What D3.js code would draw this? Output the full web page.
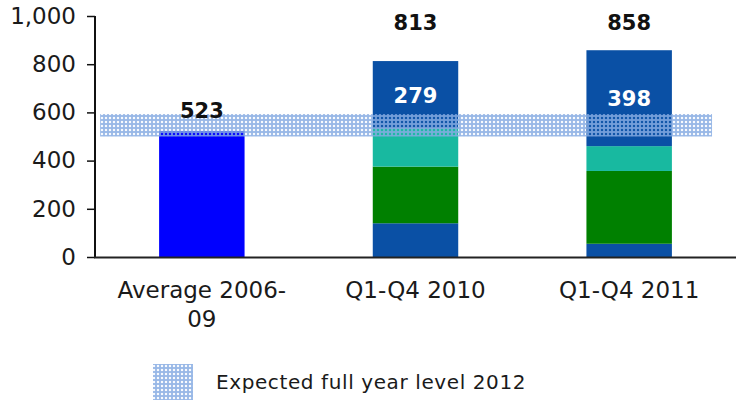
<!DOCTYPE html>
<html><head><meta charset="utf-8">
<script src="https://cdn.jsdelivr.net/npm/d3@7/dist/d3.min.js"></script>
<style>body{margin:0;background:#fff}svg{display:block}</style>
</head><body><svg id="c" width="736" height="403"></svg>
<script>
// ---- data ----
const categories = ["Average 2006-09", "Q1-Q4 2010", "Q1-Q4 2011"];
const categoryLines = [["Average 2006-", "09"], ["Q1-Q4 2010"], ["Q1-Q4 2011"]];
const averageValues = [523, 0, 0];
const baseValues = [0, 140, 55];
const greenValues = [0, 235, 302];
const tealValues = [0, 159, 103];
const topValues = [0, 279, 398];
const totals = [523, 813, 858];
const insideLabels = [null, 279, 398];
const yTicks = [0, 200, 400, 600, 800, 1000];
const expectedRange = [500, 593];
const legendLabel = "Expected full year level 2012";

const keys = ["average", "base", "green", "teal", "top"];
const colors = {average: "#0000ff", base: "#0a50a5", green: "#008000", teal: "#18b9a0", top: "#0a50a5"};
const rows = categories.map((c, i) => ({
  cat: c, average: averageValues[i], base: baseValues[i], green: greenValues[i],
  teal: tealValues[i], top: topValues[i]
}));

const svg = d3.select("#c");
const FONT = "'DejaVu Sans', Verdana, sans-serif";
const L = 95, R = 736, T = 16, B = 257;

const x = d3.scaleBand().domain(categories).range([L, R]).paddingInner(0.6).paddingOuter(0.3);
const xFull = d3.scaleLinear().domain([0, 1]).range([L, R]);
const y = d3.scaleLinear().domain([0, 1000]).range([B, T]);

// pattern for expected band: light blue mesh with transparent holes
const defs = svg.append("defs");
const pat = defs.append("pattern").attr("id", "mesh").attr("patternUnits", "userSpaceOnUse")
  .attr("width", 4).attr("height", 4);
pat.append("path")
  .attr("d", "M0 0H4V4H0Z M2 0.8 A1.2 1.2 0 1 0 2.01 0.8Z")
  .attr("fill-rule", "evenodd").attr("fill", "#86ace3").attr("fill-opacity", 0.85);

// bars
const stacked = d3.stack().keys(keys)(rows);
svg.append("g").selectAll("g").data(stacked).join("g")
  .attr("fill", d => colors[d.key])
  .selectAll("rect").data(d => d.filter(s => s[1] - s[0] > 0)).join("rect")
  .attr("x", d => x(d.data.cat))
  .attr("width", x.bandwidth())
  .attr("y", d => y(d[1]))
  .attr("height", d => y(d[0]) - y(d[1]));

// expected band
svg.append("rect")
  .attr("x", xFull(0.008)).attr("width", xFull(0.9626) - xFull(0.008))
  .attr("y", y(expectedRange[1])).attr("height", y(expectedRange[0]) - y(expectedRange[1]))
  .attr("fill", "url(#mesh)");

// axes
const yAxis = svg.append("g").attr("transform", `translate(${L},0)`)
  .call(d3.axisLeft(y).tickValues(yTicks).tickSize(8).tickPadding(11).tickFormat(d3.format(",")));
yAxis.select(".domain").attr("stroke", "#111").attr("stroke-width", 2).attr("d", `M0,${T}V${B}`);
yAxis.selectAll(".tick line").attr("stroke", "#111").attr("stroke-width", 1.5);
yAxis.selectAll("text").attr("font-family", FONT).attr("font-size", 23).attr("fill", "#1a1a1a");

svg.append("line").attr("x1", L - 1).attr("x2", R).attr("y1", B + 0.5).attr("y2", B + 0.5)
  .attr("stroke", "#222").attr("stroke-width", 2);

// category labels
const cl = svg.append("g");
categories.forEach((c, i) => {
  const t = cl.append("text").attr("x", x(c) + x.bandwidth() / 2).attr("y", 298)
    .attr("text-anchor", "middle").attr("font-family", FONT).attr("font-size", 23).attr("fill", "#1a1a1a");
  categoryLines[i].forEach((ln, j) => {
    t.append("tspan").attr("x", x(c) + x.bandwidth() / 2).attr("dy", j === 0 ? 0 : 29).text(ln);
  });
});

// total labels
svg.append("g").selectAll("text").data(categories).join("text")
  .attr("x", c => x(c) + x.bandwidth() / 2)
  .attr("y", (c, i) => i === 0 ? y(totals[i]) - 13 : 30)
  .attr("text-anchor", "middle").attr("font-family", FONT).attr("font-weight", "bold")
  .attr("font-size", 21).attr("fill", "#111")
  .text((c, i) => totals[i]);

// inside labels (top segment)
svg.append("g").selectAll("text").data(categories.filter((c, i) => insideLabels[i] != null)).join("text")
  .attr("x", c => x(c) + x.bandwidth() / 2)
  .attr("y", c => { const i = categories.indexOf(c); return (y(totals[i]) + y(totals[i] - insideLabels[i])) / 2 + 8; })
  .attr("text-anchor", "middle").attr("font-family", FONT).attr("font-weight", "bold")
  .attr("font-size", 21).attr("fill", "#fff")
  .text(c => insideLabels[categories.indexOf(c)]);

// legend
svg.append("rect").attr("x", 153).attr("y", 364).attr("width", 40).attr("height", 36).attr("fill", "url(#mesh)");
svg.append("text").attr("x", 216).attr("y", 389).attr("font-family", FONT).attr("font-size", 20)
  .attr("fill", "#1a1a1a").attr("letter-spacing", 0.6).text(legendLabel);
</script></body></html>
